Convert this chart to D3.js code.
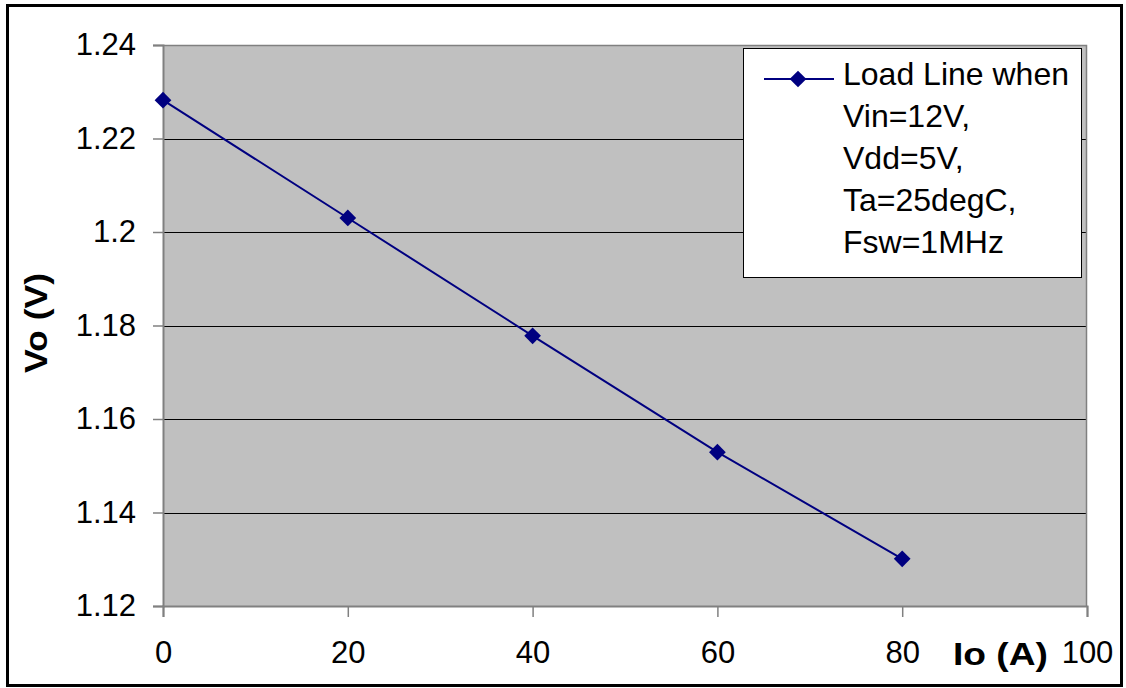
<!DOCTYPE html>
<html>
<head>
<meta charset="utf-8">
<script src="https://cdn.jsdelivr.net/npm/d3@7"></script>
<style>
  html, body { margin: 0; padding: 0; background: #fff; }
  svg { display: block; }
  text { font-family: "Liberation Sans", Arial, sans-serif; }
</style>
</head>
<body>
<svg id="chart" width="1126" height="688"></svg>
<script>
const ioValues = [0, 20, 40, 60, 80];
const voValues = [1.2282, 1.2030, 1.1778, 1.1529, 1.1301];
const xTicks = [0, 20, 40, 60, 80, 100];
const yTicks = [1.12, 1.14, 1.16, 1.18, 1.2, 1.22, 1.24];
const legendLines = ["Load Line when", "Vin=12V,", "Vdd=5V,", "Ta=25degC,", "Fsw=1MHz"];
const xTitle = "Io (A)";
const yTitle = "Vo (V)";

const svg = d3.select("#chart");
const plot = { left: 163, top: 45, right: 1087, bottom: 606 };

// outer border
svg.append("rect")
  .attr("x", 7.5).attr("y", 5.5)
  .attr("width", 1114).attr("height", 680)
  .attr("fill", "#fff").attr("stroke", "#000").attr("stroke-width", 3);

const x = d3.scaleLinear().domain([0, 100]).range([plot.left, plot.right]);
const y = d3.scaleLinear().domain([1.12, 1.24]).range([plot.bottom, plot.top]);

// plot background
svg.append("rect")
  .attr("x", plot.left).attr("y", plot.top)
  .attr("width", plot.right - plot.left).attr("height", plot.bottom - plot.top)
  .attr("fill", "#c0c0c0");

// gridlines
svg.append("g").selectAll("line")
  .data(yTicks.filter(d => d > 1.12 && d < 1.24))
  .join("line")
  .attr("x1", plot.left).attr("x2", plot.right)
  .attr("y1", d => Math.round(y(d)) + 0.5).attr("y2", d => Math.round(y(d)) + 0.5)
  .attr("stroke", "#000").attr("stroke-width", 1);

// plot border (top & right grey)
svg.append("path")
  .attr("d", `M${plot.left},${plot.top + 0.5}H${plot.right - 0.5}V${plot.bottom}`)
  .attr("fill", "none").attr("stroke", "#808080").attr("stroke-width", 1.5);

// y axis
const yAxis = d3.axisLeft(y).tickValues(yTicks).tickSize(10).tickPadding(17)
  .tickFormat(d => String(+d.toFixed(2)));
const gy = svg.append("g").attr("transform", `translate(${plot.left},0)`).call(yAxis);
gy.select(".domain").attr("stroke", "#808080").attr("stroke-width", 2);
gy.selectAll(".tick line").attr("stroke", "#808080").attr("stroke-width", 1.5);
gy.selectAll(".tick text").attr("font-size", 31).attr("fill", "#000")
  .attr("font-family", "'Liberation Sans', Arial, sans-serif");

// x axis
const xAxis = d3.axisBottom(x).tickValues(xTicks).tickSize(11).tickPadding(24).tickFormat(d3.format("d"));
const gx = svg.append("g").attr("transform", `translate(0,${plot.bottom})`).call(xAxis);
gx.select(".domain").attr("stroke", "#808080").attr("stroke-width", 2);
gx.selectAll(".tick line").attr("stroke", "#808080").attr("stroke-width", 1.5);
gx.selectAll(".tick text").attr("font-size", 31).attr("fill", "#000")
  .attr("font-family", "'Liberation Sans', Arial, sans-serif");

// series line
const data = ioValues.map((v, i) => ({ x: v, y: voValues[i] }));
svg.append("path")
  .datum(data)
  .attr("d", d3.line().x(d => x(d.x)).y(d => y(d.y)))
  .attr("fill", "none").attr("stroke", "#000080").attr("stroke-width", 2);

const diamond = d3.symbol().type(d3.symbolSquare).size(140);
svg.append("g").selectAll("path")
  .data(data)
  .join("path")
  .attr("d", diamond)
  .attr("transform", d => `translate(${x(d.x)},${y(d.y)}) rotate(45)`)
  .attr("fill", "#000080");

// titles
svg.append("text")
  .attr("x", 953).attr("y", 665)
  .attr("font-size", 31).attr("font-weight", "bold")
  .attr("textLength", 95).attr("lengthAdjust", "spacingAndGlyphs")
  .text(xTitle);

svg.append("text")
  .attr("transform", "translate(47,373) rotate(-90)")
  .attr("font-size", 31).attr("font-weight", "bold")
  .attr("textLength", 100).attr("lengthAdjust", "spacingAndGlyphs")
  .text(yTitle);

// legend
const lg = svg.append("g");
lg.append("rect")
  .attr("x", 743.5).attr("y", 48.5).attr("width", 338).attr("height", 229)
  .attr("fill", "#fff").attr("stroke", "#000").attr("stroke-width", 1);
lg.append("line")
  .attr("x1", 764).attr("x2", 834).attr("y1", 79).attr("y2", 79)
  .attr("stroke", "#000080").attr("stroke-width", 2);
lg.append("path")
  .attr("d", diamond)
  .attr("transform", "translate(798,79) rotate(45)")
  .attr("fill", "#000080");
lg.selectAll("text.leg")
  .data(legendLines)
  .join("text")
  .attr("class", "leg")
  .attr("x", 843)
  .attr("y", (d, i) => 84.5 + i * 42)
  .attr("font-size", 32)
  .text(d => d);
</script>
</body>
</html>
